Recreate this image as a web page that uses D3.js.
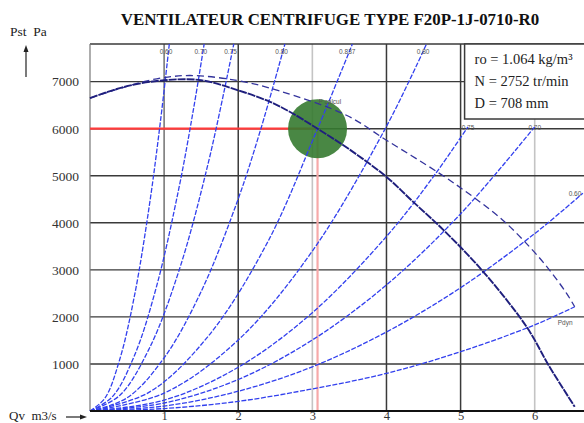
<!DOCTYPE html>
<html>
<head>
<meta charset="utf-8">
<script src="https://cdn.jsdelivr.net/npm/d3@7"></script>
<style>
  html, body { margin: 0; padding: 0; background: #fff; }
  svg { display: block; }
  .serif { font-family: "Liberation Serif", "Times New Roman", serif; }
  .small { font-family: "Liberation Sans", Arial, sans-serif; font-size: 6.5px; fill: #555; }
</style>
</head>
<body>
<div id="chart"></div>
<script>
/* Courbe caractéristique ventilateur – D3 v7 */

const TITLE = "VENTILATEUR CENTRIFUGE TYPE F20P-1J-0710-R0";
const INFO = ["ro = 1.064 kg/m³", "N = 2752 tr/min", "D = 708 mm"];

const qTicks = [1, 2, 3, 4, 5, 6];
const pTicks = [1000, 2000, 3000, 4000, 5000, 6000, 7000];

// Pression statique du ventilateur (Pst)
const fanQ = [0, 0.45, 1.0, 1.5, 2.0, 2.43, 2.7, 3.07, 3.5, 4.0, 4.36, 4.77, 5.3, 5.89, 6.2, 6.54];
const fanP = [6650, 6885, 7030, 7030, 6815, 6570, 6355, 6000, 5560, 4975, 4445, 3845, 2970, 1790, 940, 90];

// Pression totale (tirets)
const totQ = [0, 0.5, 0.9, 1.35, 2.0, 2.56, 3.46, 4.0, 4.72, 5.17, 5.57, 5.93, 6.2, 6.43, 6.54];
const totP = [6650, 6900, 7060, 7130, 7020, 6800, 6285, 5755, 5045, 4550, 4055, 3490, 2995, 2500, 2215];

// Courbes de rendement (paraboles)
const eta060a = [[0, 0], [0.2, 270], [0.4, 1090], [0.6, 2450], [0.8, 4360], [0.95, 6150], [1.07, 7800]];
const eta070a = [[0, 0], [0.3, 300], [0.6, 1180], [0.9, 2660], [1.2, 4740], [1.4, 6450], [1.54, 7800]];
const eta075a = [[0, 0], [0.4, 330], [0.8, 1330], [1.2, 2980], [1.6, 5300], [1.94, 7800]];
const eta080a = [[0, 0], [0.5, 280], [1.0, 1130], [1.5, 2540], [2.0, 4510], [2.3, 5970], [2.63, 7800]];
const eta0837 = [[0, 0], [0.8, 400], [1.6, 1600], [2.4, 3600], [3.07, 6000], [3.54, 7800]];
const eta080b = [[0, 0], [1, 380], [2, 1510], [3, 3400], [4, 6050], [4.54, 7800]];
const eta075b = [[0, 0], [1, 230], [2, 930], [3, 2090], [4, 3710], [4.6, 4910], [5.1, 6040]];
const eta070b = [[0, 0], [1, 170], [2, 670], [3, 1510], [4, 2680], [5, 4190], [6.0, 6040]];
const eta060b = [[0, 0], [1, 105], [2, 420], [3, 940], [4, 1680], [5, 2620], [6, 3770], [6.65, 4630]];
const pdyn = [[0, 0], [1, 52], [2, 205], [3, 470], [4, 800], [5, 1260], [6, 1830], [6.54, 2215]];

const etaCurves = [eta060a, eta070a, eta075a, eta080a, eta0837, eta080b, eta075b, eta070b, eta060b];
const etaLabels = ["0.60", "0.70", "0.75", "0.80", "0.837", "0.80", "0.75", "0.70", "0.60"];

// Point de fonctionnement
const opQ = 3.07;
const opP = 6000;

const COLORS = {
  grid: "#3a3a3a",
  gridLight: "#c4c4c4",
  gridMid: "#7a7a7a",
  fan: "#1f1f7d",
  total: "#33339c",
  eta: "#3240ee",
  red: "#ff3b3b",
  pink: "#f6a9a9",
  green: "#357a30",
};

const W = 584, H = 423;
const svg = d3.select("#chart").append("svg")
  .attr("width", W).attr("height", H)
  .attr("viewBox", `0 0 ${W} ${H}`);

const x = d3.scaleLinear().domain([0, 6.8]).range([90, 594]);
const y = d3.scaleLinear().domain([0, 7800]).range([411, 44]);

// Quadrillage vertical
const vStyle = { 1: COLORS.gridMid, 2: COLORS.grid, 3: COLORS.gridLight, 4: COLORS.grid, 5: COLORS.grid, 6: COLORS.gridLight };
svg.append("g").selectAll("line").data(qTicks).join("line")
  .attr("x1", d => x(d)).attr("x2", d => x(d))
  .attr("y1", y(7800)).attr("y2", y(0))
  .attr("stroke", d => vStyle[d])
  .attr("stroke-width", d => vStyle[d] === COLORS.grid ? 1.5 : 1.6);

// Quadrillage horizontal (+ cadre haut)
svg.append("g").selectAll("line").data(pTicks.concat([7800])).join("line")
  .attr("x1", x(0)).attr("x2", W)
  .attr("y1", d => y(d)).attr("y2", d => y(d))
  .attr("stroke", COLORS.grid)
  .attr("stroke-width", 1.4);

// Axe gauche
svg.append("line")
  .attr("x1", x(0)).attr("x2", x(0)).attr("y1", y(7800)).attr("y2", y(0))
  .attr("stroke", "#777").attr("stroke-width", 1.2);

// Cartouche
const box = svg.append("g");
box.append("rect")
  .attr("x", x(5) + 4).attr("y", y(7800))
  .attr("width", 200).attr("height", 75)
  .attr("fill", "#fff")
  .attr("stroke", COLORS.grid).attr("stroke-width", 1.5);
box.selectAll("text").data(INFO).join("text")
  .attr("class", "serif")
  .attr("x", x(5) + 14)
  .attr("y", (d, i) => 64 + i * 22)
  .attr("font-size", 14.5)
  .attr("fill", "#222")
  .text(d => d);

// Repères du point de fonctionnement
svg.append("line")
  .attr("x1", x(0)).attr("x2", x(opQ)).attr("y1", y(opP)).attr("y2", y(opP))
  .attr("stroke", COLORS.red).attr("stroke-width", 2.2);
svg.append("line")
  .attr("x1", x(opQ)).attr("x2", x(opQ)).attr("y1", y(opP)).attr("y2", y(0))
  .attr("stroke", COLORS.pink).attr("stroke-width", 2.2);

svg.append("circle")
  .attr("cx", x(opQ)).attr("cy", y(opP)).attr("r", 29.5)
  .attr("fill", COLORS.green).attr("fill-opacity", 0.9);

// Courbes
const lineQP = d3.line()
  .x(d => x(d[0])).y(d => y(d[1]))
  .curve(d3.curveCatmullRom.alpha(0.5));

svg.append("g").selectAll("path").data(etaCurves.concat([pdyn])).join("path")
  .attr("fill", "none")
  .attr("stroke", COLORS.eta)
  .attr("stroke-width", 1.3)
  .attr("stroke-dasharray", "5,1.6")
  .attr("d", d => lineQP(d));

svg.append("path")
  .datum(d3.zip(totQ, totP))
  .attr("fill", "none")
  .attr("stroke", COLORS.total)
  .attr("stroke-width", 1.3)
  .attr("stroke-dasharray", "7,4")
  .attr("d", lineQP);

svg.append("path")
  .datum(d3.zip(fanQ, fanP))
  .attr("fill", "none")
  .attr("stroke", COLORS.fan)
  .attr("stroke-width", 1.9)
  .attr("stroke-dasharray", "8,1")
  .attr("d", lineQP);

// Etiquettes de rendement
etaCurves.forEach((c, i) => {
  const end = c[c.length - 1];
  const top = end[1] >= 7800;
  svg.append("text")
    .attr("class", "small")
    .attr("x", top ? x(end[0]) + 3 : Math.min(x(end[0]), W - 9))
    .attr("y", top ? 54 : y(end[1]) + 3)
    .attr("text-anchor", top ? "end" : "middle")
    .text(etaLabels[i]);
});
const pdEnd = pdyn[pdyn.length - 1];
svg.append("text").attr("class", "small")
  .attr("x", x(pdEnd[0]) - 17).attr("y", y(pdEnd[1]) + 18)
  .text("Pdyn");
svg.append("text").attr("class", "small")
  .attr("x", x(opQ) + 1).attr("y", y(opP) - 25)
  .text("P calcul");

// Axes
svg.append("g")
  .attr("class", "serif")
  .attr("transform", `translate(${x(0)},0)`)
  .call(d3.axisLeft(y).tickValues(pTicks).tickSize(0).tickPadding(11).tickFormat(d3.format("d")))
  .call(g => g.select(".domain").remove())
  .call(g => g.selectAll("text").attr("font-size", 13.5).attr("fill", "#333")
    .style("font-family", "'Liberation Serif', serif"));

// Libellés du débit : ligne de base à 420 px pour rester dans la fenêtre
svg.append("g")
  .attr("transform", `translate(0,${y(0)})`)
  .call(d3.axisBottom(x).tickValues(qTicks).tickSize(0).tickFormat(d3.format("d")))
  .call(g => g.select(".domain").remove())
  .call(g => g.selectAll("text")
    .attr("y", 420 - y(0)).attr("dy", null)
    .attr("font-size", 12.5).attr("fill", "#333")
    .style("font-family", "'Liberation Serif', serif"));

svg.append("line")
  .attr("x1", x(0)).attr("x2", W).attr("y1", y(0)).attr("y2", y(0))
  .attr("stroke", "#111").attr("stroke-width", 2.2);

// Titres
svg.append("text").attr("class", "serif")
  .attr("x", 330).attr("y", 25)
  .attr("text-anchor", "middle")
  .attr("font-size", 16.9).attr("font-weight", "bold").attr("fill", "#111")
  .text(TITLE);

svg.append("text").attr("class", "serif")
  .attr("x", 10).attr("y", 36)
  .attr("font-size", 13.5).attr("fill", "#222")
  .attr("xml:space", "preserve")
  .text("Pst  Pa");

svg.append("text").attr("class", "serif")
  .attr("x", 9).attr("y", 420)
  .attr("font-size", 13).attr("fill", "#222")
  .attr("xml:space", "preserve")
  .text("Qv  m3/s");

// Flèches
svg.append("line").attr("x1", 26).attr("x2", 26).attr("y1", 77).attr("y2", 50)
  .attr("stroke", "#222").attr("stroke-width", 1.2);
svg.append("path").attr("d", "M26,45 L23.5,52 L28.5,52 Z").attr("fill", "#222");
svg.append("line").attr("x1", 66).attr("x2", 81).attr("y1", 417).attr("y2", 417)
  .attr("stroke", "#222").attr("stroke-width", 1.2);
svg.append("path").attr("d", "M87,417 L80,414.5 L80,419.5 Z").attr("fill", "#222");
</script>
</body>
</html>
